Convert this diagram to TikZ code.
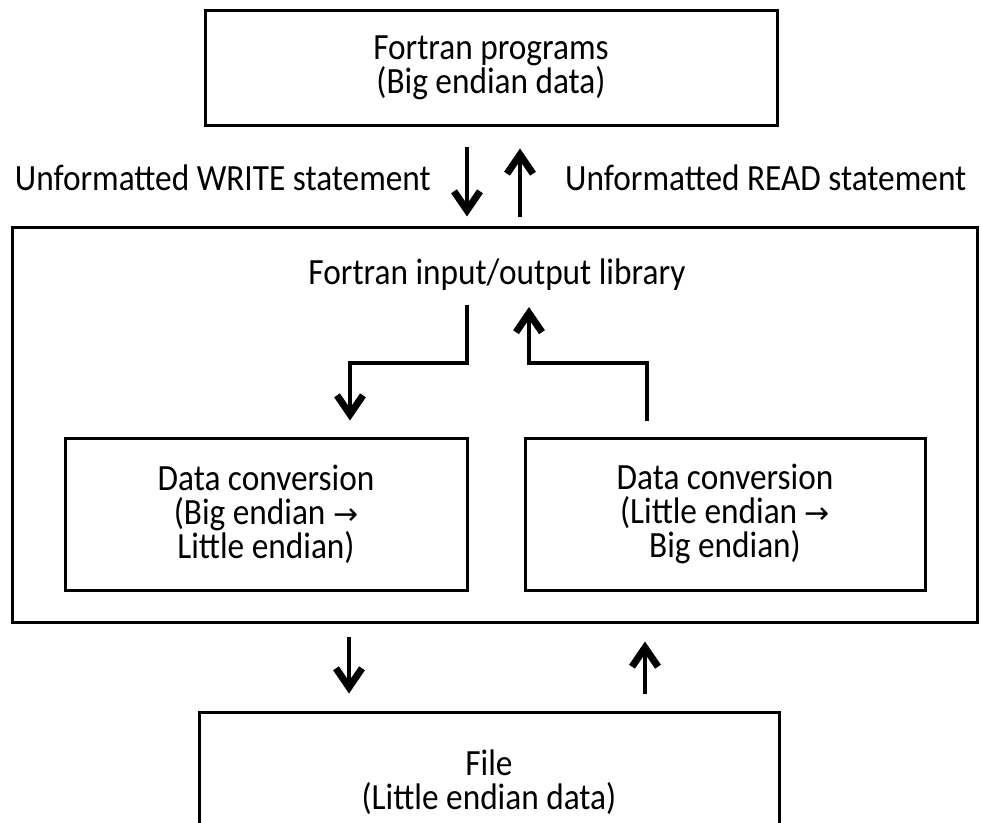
\documentclass[tikz,border=0pt]{standalone}
\usepackage{fontspec}
\setmainfont[FakeStretch=0.9]{Carlito}
\newfontfamily\symfont{DejaVu Sans}
\usetikzlibrary{arrows.meta,calc}
\newcommand{\toarrow}{{\symfont\fontsize{30}{30}\selectfont →}}
\begin{document}
\begin{tikzpicture}[x=1pt,y=-1pt,
  txt/.style={font=\fontsize{37}{34}\selectfont},
  box/.style={draw,line width=3pt,align=center,inner sep=0pt,txt},
  lbl/.style={inner sep=0pt,txt},
  arr/.style={line width=4pt,-{Straight Barb[length=19pt,width=26pt,line width=7pt]}},
  wire/.style={line width=4pt,line join=miter}]
\useasboundingbox (0,0) rectangle (981,822);

% boxes
\node[box,minimum width=572pt,minimum height=115pt] (prog) at (491,67.5)
  {Fortran programs\\(Big endian data)};
\node[box,minimum width=965pt,minimum height=395pt] (lib) at (494.5,424.5) {};
\node[lbl,anchor=base] (libtitle) at (497,284) {Fortran input/output library};
\node[box,minimum width=402pt,minimum height=152pt] (conv1) at (266,514)
  {Data conversion\\(Big endian \toarrow\\Little endian)};
\node[box,minimum width=400pt,minimum height=152pt] (conv2) at (725,514)
  {Data conversion\\(Little endian \toarrow\\Big endian)};
\node[box,minimum width=580pt,minimum height=140pt] (file) at (489,782)
  {File\\(Little endian data)};

% statement labels
\node[lbl,anchor=base east] (wlabel) at (431,190) {Unformatted WRITE statement};
\node[lbl,anchor=base west] (rlabel) at (565,190) {Unformatted READ statement};

% program <-> library
\coordinate (w0) at ($(prog.south)+(-24,20)$);
\coordinate (w1) at ($(lib.north)+(-27.5,-9)$);
\coordinate (r0) at ($(lib.north)+(25.5,-9)$);
\coordinate (r1) at ($(prog.south)+(29,22)$);
\draw[arr] (w0) -- (w1);
\draw[arr] (r0) -- (r1);

% library -> conversions
\coordinate (a0) at (467,305);
\coordinate (a1) at (467,363);
\coordinate (b1) at (529,363);
\coordinate (b0) at (529,307);
\draw[wire,arr] (a0) -- (a1) -| ($(conv1.north)+(84,-16)$);
\draw[wire,arr] ($(conv2.north)+(-78,-16)$) |- (b1) -- (b0);

% library <-> file
\draw[arr] ($(lib.south)+(-145.5,13)$) -- ($(file.north)+(-140,-17)$);
\draw[arr] ($(file.north)+(156,-17)$) -- ($(lib.south)+(150.5,18)$);
\end{tikzpicture}
\end{document}
